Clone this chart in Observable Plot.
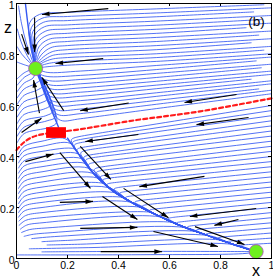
<!DOCTYPE html>
<html><head><meta charset="utf-8">
<script src="https://cdn.jsdelivr.net/npm/d3@7"></script>
<script src="https://cdn.jsdelivr.net/npm/@observablehq/plot@0.6"></script>
<style>body{margin:0;background:#fff}</style>
</head><body><div id="chart"></div>
<script>
// ---- data ----
const xTicks = [0, 0.2, 0.4, 0.6, 0.8, 1];
const zTicks = [0, 0.2, 0.4, 0.6, 0.8, 1];
const tickLabels = ["0", "0.2", "0.4", "0.6", "0.8", "1"];

// stable manifold into the upper node (from the saddle up through the node to the top)
const manifoldUp = [[0.165,0.515],[0.14,0.575],[0.115,0.635],[0.095,0.69],[0.075,0.745],[0.062,0.81],[0.05,0.88],[0.042,0.94],[0.035,1.0]];
// unstable branch from the saddle to the lower node
const manifoldDown = [[0.2,0.472],[0.25,0.4],[0.3,0.335],[0.37,0.27],[0.45,0.22],[0.55,0.17],[0.65,0.125],[0.75,0.09],[0.85,0.055],[0.94,0.027]];
// red dashed separatrix
const separatrix = [[0.0,0.425],[0.025,0.452],[0.06,0.475],[0.1,0.487],[0.16,0.495],[0.25,0.507],[0.33,0.52],[0.47,0.543],[0.6,0.56],[0.72,0.577],[0.85,0.6],[1.0,0.628]];
const nodes = [[0.075,0.745],[0.94,0.027]];
const saddle = [[0.157,0.492]];
// black arrows: x1, z1, x2, z2
const arrows = [
  [0.36,0.98,0.10,0.957],[0.071,0.945,0.071,0.81],[0.02,0.88,0.047,0.80],[0.34,0.784,0.153,0.765],
  [0.09,0.57,0.067,0.70],[0.185,0.58,0.10,0.71],[0.44,0.61,0.25,0.58],[0.02,0.494,0.098,0.55],
  [0.863,0.643,0.659,0.612],[0.91,0.553,0.706,0.525],[0.478,0.486,0.27,0.459],[0.035,0.38,0.145,0.41],
  [0.17,0.415,0.29,0.275],[0.25,0.44,0.37,0.31],[0.17,0.22,0.30,0.224],[0.337,0.243,0.474,0.153],
  [0.25,0.118,0.474,0.122],[0.33,0.027,0.57,0.027],[0.42,0.275,0.596,0.16],[0.737,0.322,0.482,0.282],
  [0.94,0.196,0.68,0.165],[0.87,0.153,0.776,0.13],[0.70,0.125,0.894,0.055],[0.537,0.106,0.79,0.047]
];

// streamlines above the upper node (flat x,z pairs)
const upperLines = [
  [0.97,0.995,0.55,0.979,0.2,0.965,0.09,0.957,0.052,0.925,0.052,0.85,0.07,0.765],
  [1.0,0.983,0.55,0.963,0.2,0.949,0.1,0.942,0.058,0.905,0.057,0.84,0.071,0.765],
  [0.93,0.967,0.55,0.948,0.2,0.933,0.105,0.926,0.064,0.89,0.062,0.83,0.072,0.765],
  [1.0,0.953,0.55,0.931,0.2,0.916,0.11,0.909,0.07,0.874,0.066,0.82,0.073,0.765],
  [0.96,0.937,0.55,0.915,0.2,0.9,0.115,0.892,0.076,0.86,0.07,0.81,0.074,0.765],
  [1.0,0.923,0.55,0.899,0.2,0.883,0.12,0.875,0.082,0.845,0.074,0.8,0.075,0.765],
  [0.9,0.905,0.55,0.883,0.2,0.867,0.125,0.859,0.088,0.83,0.077,0.79,0.076,0.765],
  [1.0,0.892,0.55,0.867,0.2,0.851,0.13,0.843,0.094,0.815,0.08,0.78],
  [0.95,0.876,0.55,0.851,0.2,0.835,0.135,0.827,0.1,0.802,0.082,0.775],
  [1.0,0.862,0.55,0.835,0.2,0.819,0.14,0.811,0.105,0.79,0.085,0.77],
  [0.92,0.846,0.55,0.819,0.2,0.803,0.14,0.796,0.108,0.779,0.087,0.765],
  [1.0,0.832,0.55,0.803,0.2,0.788,0.14,0.782,0.105,0.769,0.088,0.758],
  [0.97,0.817,0.55,0.788,0.2,0.773,0.13,0.766,0.09,0.755],
  [1.0,0.803,0.55,0.773,0.2,0.758,0.12,0.752,0.09,0.748]
];
// streamlines between the upper node and the separatrix
const middleLines = [
  [1.0,0.79,0.55,0.757,0.25,0.735,0.12,0.73,0.085,0.742],
  [0.94,0.775,0.55,0.741,0.25,0.718,0.12,0.714,0.09,0.725,0.078,0.745],
  [1.0,0.762,0.55,0.726,0.25,0.702,0.13,0.697,0.097,0.71,0.08,0.742],
  [0.96,0.748,0.55,0.71,0.25,0.685,0.135,0.68,0.102,0.695,0.08,0.742],
  [1.0,0.735,0.55,0.695,0.25,0.669,0.14,0.664,0.108,0.68,0.08,0.742],
  [1.0,0.722,0.55,0.68,0.25,0.652,0.145,0.647,0.114,0.662,0.08,0.742],
  [0.92,0.703,0.55,0.666,0.25,0.636,0.15,0.631,0.12,0.645,0.08,0.742],
  [1.0,0.697,0.55,0.65,0.25,0.619,0.155,0.614,0.126,0.628,0.08,0.742],
  [1.0,0.685,0.55,0.636,0.25,0.603,0.16,0.598,0.132,0.612,0.08,0.742],
  [0.95,0.665,0.55,0.62,0.25,0.586,0.165,0.581,0.139,0.596,0.08,0.742],
  [1.0,0.66,0.55,0.605,0.25,0.568,0.17,0.562,0.146,0.578,0.08,0.742],
  [1.0,0.646,0.55,0.588,0.25,0.548,0.18,0.54,0.155,0.556,0.08,0.742]
];
// left strip, above the separatrix
const leftLines = [
  [0.003,0.455,0.03,0.49,0.13,0.515,0.158,0.535,0.08,0.742],
  [0.003,0.48,0.03,0.515,0.12,0.54,0.152,0.555,0.08,0.742],
  [0.003,0.505,0.03,0.54,0.115,0.56,0.143,0.578,0.08,0.742],
  [0.003,0.53,0.03,0.565,0.105,0.585,0.133,0.603,0.08,0.742],
  [0.003,0.555,0.03,0.59,0.095,0.61,0.123,0.628,0.08,0.742],
  [0.003,0.58,0.03,0.615,0.088,0.635,0.113,0.653,0.08,0.742],
  [0.003,0.605,0.03,0.64,0.08,0.66,0.104,0.678,0.08,0.742],
  [0.003,0.63,0.03,0.665,0.072,0.685,0.094,0.703,0.078,0.742],
  [0.003,0.655,0.03,0.688,0.065,0.708,0.077,0.74],
  [0.003,0.68,0.03,0.71,0.06,0.728,0.074,0.745],
  [0.003,0.705,0.03,0.728,0.066,0.745],
  [0.008,0.99,0.02,0.92,0.04,0.84,0.068,0.76],
  [0.003,0.9,0.018,0.85,0.042,0.795,0.068,0.755],
  [0.003,0.83,0.022,0.8,0.05,0.77,0.07,0.752],
  [0.003,0.77,0.03,0.76,0.068,0.748]
];
// below the separatrix, coming from the left (then along manifoldDown)
const lowerLeftLines = [
  [0.008,0.41,0.03,0.44,0.1,0.46,0.19,0.47],
  [0.008,0.395,0.03,0.422,0.1,0.44,0.21,0.452],
  [0.008,0.375,0.03,0.403,0.1,0.42,0.23,0.429],
  [0.008,0.355,0.03,0.383,0.1,0.4,0.243,0.41],
  [0.008,0.335,0.03,0.363,0.1,0.38,0.257,0.391],
  [0.008,0.315,0.03,0.343,0.1,0.36,0.272,0.372],
  [0.008,0.295,0.03,0.323,0.1,0.34,0.287,0.353],
  [0.008,0.275,0.03,0.303,0.1,0.32,0.3,0.334],
  [0.008,0.255,0.03,0.283,0.1,0.3,0.321,0.315],
  [0.008,0.235,0.03,0.263,0.1,0.28,0.341,0.294],
  [0.008,0.215,0.03,0.243,0.1,0.26,0.361,0.278],
  [0.008,0.197,0.03,0.224,0.1,0.24,0.39,0.257],
  [0.008,0.18,0.03,0.205,0.1,0.22,0.419,0.239],
  [0.008,0.162,0.03,0.186,0.1,0.2,0.448,0.221],
  [0.01,0.147,0.035,0.168,0.1,0.18,0.491,0.2],
  [0.01,0.13,0.035,0.149,0.1,0.16,0.527,0.181],
  [0.015,0.115,0.04,0.131,0.1,0.14,0.565,0.163],
  [0.02,0.102,0.05,0.113,0.12,0.12,0.615,0.141],
  [0.03,0.087,0.06,0.094,0.12,0.1,0.656,0.122],
  [0.06,0.078,0.15,0.086,0.704,0.106],
  [0.1,0.066,0.2,0.071,0.751,0.09],
  [0.12,0.053,0.25,0.056,0.8,0.0725],
  [0.05,0.038,0.3,0.043,0.85,0.055],
  [0.1,0.026,0.5,0.028,0.94,0.027],
  [0.0,0.014,0.5,0.015,0.9,0.02,0.94,0.027]
];
// below the separatrix, coming from the right (then along manifoldDown)
const lowerRightLines = [
  [1,0.6,0.24,0.478,0.2,0.472],[1,0.58,0.246,0.467,0.206,0.461],[1,0.56,0.254,0.456,0.214,0.45],
  [1,0.54,0.267,0.438,0.227,0.432],[1,0.52,0.275,0.426,0.235,0.421],[1,0.5,0.288,0.407,0.248,0.402],
  [1,0.48,0.297,0.396,0.257,0.391],[1,0.46,0.311,0.378,0.271,0.373],[1,0.44,0.325,0.359,0.285,0.354],
  [1,0.42,0.334,0.346,0.294,0.342],[1,0.4,0.352,0.329,0.312,0.324],[1,0.38,0.364,0.316,0.324,0.312],
  [1,0.36,0.384,0.298,0.344,0.294],[1,0.34,0.403,0.28,0.363,0.276],[1,0.32,0.428,0.263,0.388,0.259],
  [1,0.3,0.455,0.246,0.415,0.242],[1,0.28,0.483,0.228,0.443,0.224],[1,0.26,0.515,0.212,0.475,0.208],
  [1,0.24,0.548,0.195,0.508,0.191],[1,0.22,0.582,0.178,0.542,0.174],[1,0.2,0.617,0.162,0.577,0.158],
  [1,0.18,0.654,0.145,0.614,0.141],[1,0.16,0.69,0.129,0.65,0.125],[1,0.14,0.728,0.116,0.688,0.112],
  [1,0.12,0.773,0.1,0.733,0.096],[1,0.1,0.813,0.085,0.773,0.082],[1,0.08,0.855,0.07,0.815,0.067],
  [1,0.06,0.9,0.054,0.861,0.052]
];

// ---- build tables ----
let uid = 0;
function rows(lines, followDown) {
  const out = [];
  for (const L of lines) {
    const id = uid++;
    const pts = [];
    for (let i = 0; i < L.length; i += 2) pts.push([L[i], L[i + 1]]);
    if (followDown) {
      const last = pts[pts.length - 1];
      for (const p of manifoldDown) if (p[0] > last[0] + 0.015) pts.push(p);
    }
    for (const p of pts) out.push({id, x: p[0], z: p[1]});
  }
  return out;
}
const smoothRows = [
  ...rows(upperLines, false), ...rows(middleLines, false),
  ...rows(leftLines, false), ...rows(lowerLeftLines, true)
];
const rightRows = rows(lowerRightLines, true);
const manifoldRows = [
  ...manifoldUp.map(p => ({id: "up", x: p[0], z: p[1]})),
  ...manifoldDown.map(p => ({id: "down", x: p[0], z: p[1]}))
];

// filled, narrow arrowhead; tip at the origin, pointing up before rotation
const headSymbol = {
  draw(context) {
    context.moveTo(0, 0);
    context.lineTo(-2.3, 7.5);
    context.lineTo(2.3, 7.5);
    context.closePath();
  }
};
// equal x/z pixel scale, so the screen angle follows from the data direction
const headAngle = d => Math.atan2(d[2] - d[0], d[3] - d[1]) * 180 / Math.PI;

const blue = "#3558f2";
const fmt = d => tickLabels[xTicks.indexOf(d)];
const fmtZ = d => tickLabels[zTicks.indexOf(d)];

const chart = Plot.plot({
  width: 273, height: 279,
  marginLeft: 16, marginRight: 2, marginTop: 3, marginBottom: 21,
  x: {domain: [0, 1]}, y: {domain: [0, 1]},
  style: {fontFamily: "'Liberation Sans', Arial, sans-serif", fontSize: "10.5px", background: "white", color: "black"},
  marks: [
    Plot.line(smoothRows, {x: "x", y: "z", z: "id", stroke: blue, strokeWidth: 0.85, curve: "catmull-rom"}),
    Plot.line(rightRows, {x: "x", y: "z", z: "id", stroke: blue, strokeWidth: 0.85, curve: "basis"}),
    Plot.line(manifoldRows, {x: "x", y: "z", z: "id", stroke: blue, strokeWidth: 1.4, curve: "catmull-rom"}),
    Plot.line(separatrix, {x: d => d[0], y: d => d[1], stroke: "#ff1c1c", strokeWidth: 2.2, strokeDasharray: "4,3", curve: "catmull-rom"}),
    Plot.link(arrows, {x1: d => d[0], y1: d => d[1], x2: d => d[2], y2: d => d[3], stroke: "black", strokeWidth: 1.1}),
    Plot.dot(arrows, {x: d => d[2], y: d => d[3], symbol: headSymbol, rotate: headAngle, fill: "black", stroke: "none", r: 3}),
    Plot.rect(saddle, {x1: d => d[0] - 0.039, x2: d => d[0] + 0.039, y1: d => d[1] - 0.021, y2: d => d[1] + 0.021, fill: "#ff0000"}),
    Plot.dot(nodes, {x: d => d[0], y: d => d[1], r: 7, fill: "#6ef01e", stroke: "#b044c8", strokeWidth: 0.8}),
    Plot.frame({stroke: "black", strokeWidth: 1}),
    Plot.tickX(xTicks, {x: d => d, insetTop: 252, stroke: "black"}),
    Plot.tickX(xTicks, {x: d => d, insetBottom: 252, stroke: "black"}),
    Plot.tickY(zTicks, {y: d => d, insetRight: 252, stroke: "black"}),
    Plot.tickY(zTicks, {y: d => d, insetLeft: 252, stroke: "black"}),
    Plot.axisX(xTicks, {anchor: "bottom", tickSize: 0, tickPadding: 3, tickFormat: fmt, label: null}),
    Plot.axisY(zTicks, {anchor: "left", tickSize: 0, tickPadding: 2, dy: 1.8, tickFormat: fmtZ, label: null}),
    Plot.text(["z"], {frameAnchor: "top-left", dx: -8.5, dy: 24, fontSize: 16, textAnchor: "middle", lineAnchor: "middle"}),
    Plot.text(["x"], {frameAnchor: "bottom-right", dx: -15.5, dy: 12, fontSize: 16, textAnchor: "middle", lineAnchor: "middle"}),
    Plot.text(["(b)"], {frameAnchor: "top-right", dx: -15, dy: 18, fontSize: 13.5, textAnchor: "middle", lineAnchor: "middle"})
  ]
});
document.getElementById("chart").appendChild(chart);
</script>
</body></html>
